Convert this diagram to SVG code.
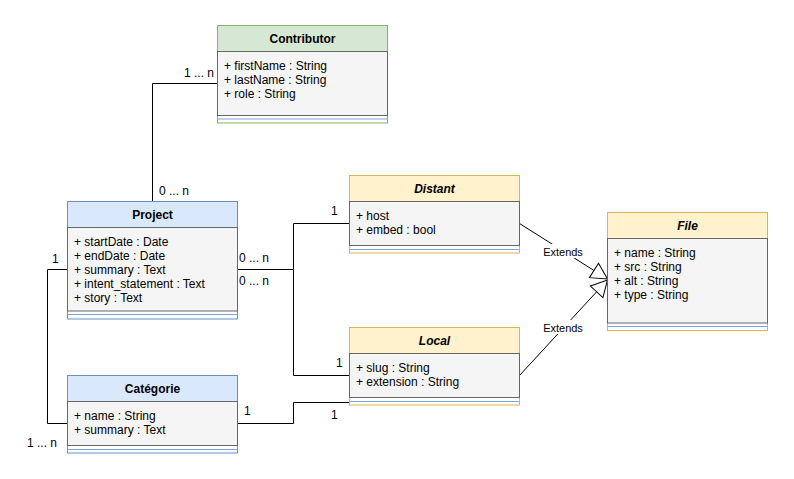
<svg xmlns="http://www.w3.org/2000/svg" width="794" height="479" viewBox="0 0 794 479">
<defs>
<style>
text{font-family:"Liberation Sans",Arial,sans-serif;font-size:12px;fill:#000}
.title{font-weight:bold;text-anchor:middle}
.it{font-style:italic}
.attr{fill:#f5f5f5;stroke:#666666;stroke-width:1}
.sep{stroke:#7ea6e0;stroke-width:1}
.green{fill:#d5e8d4;stroke:#82b366}
.blue{fill:#dae8fc;stroke:#6c8ebf}
.yellow{fill:#fff2cc;stroke:#d6b656}
.outer{fill:#fff}
.conn{fill:none;stroke:#000;stroke-width:1}
.lbl{font-size:11px;text-anchor:middle}
</style>
<marker id="tri" markerUnits="userSpaceOnUse" viewBox="0 0 18 20" refX="17" refY="10" markerWidth="18" markerHeight="20" orient="auto">
<path d="M1,1.5 L17,10 L1,18.5 Z" fill="#fff" stroke="#000" stroke-width="1"/>
</marker>
</defs>
<rect width="794" height="479" fill="#fff"/>

<g id="connectors">
<polyline class="conn" points="217.5,83.5 152.5,83.5 152.5,201.5"/>
<polyline class="conn" points="237.5,269.5 293.5,269.5 293.5,223.5 349.5,223.5"/>
<polyline class="conn" points="237.5,269.5 293.5,269.5 293.5,375.5 349.5,375.5"/>
<polyline class="conn" points="67.5,269.5 47.5,269.5 47.5,423.5 67.5,423.5"/>
<polyline class="conn" points="237.5,423.5 293.5,423.5 293.5,402.5 354.5,402.5"/>
<line class="conn" x1="519.5" y1="223.5" x2="607.5" y2="279" marker-end="url(#tri)"/>
<line class="conn" x1="519.5" y1="375.5" x2="607.5" y2="280" marker-end="url(#tri)"/>
<rect x="542" y="244" width="42" height="14" fill="#fff"/>
<text class="lbl" x="563" y="256">Extends</text>
<rect x="542" y="320" width="42" height="14" fill="#fff"/>
<text class="lbl" x="563" y="332">Extends</text>
<text x="214" y="77" text-anchor="end">1 ... n</text>
<text x="159" y="195">0 ... n</text>
<text x="239" y="262">0 ... n</text>
<text x="239" y="285">0 ... n</text>
<text x="331" y="215">1</text>
<text x="336" y="367">1</text>
<text x="52" y="263">1</text>
<text x="27" y="447">1 ... n</text>
<text x="244" y="415">1</text>
<text x="331" y="419">1</text>
</g>

<g id="contributor">
<rect x="217.5" y="25.5" width="170" height="97.5" class="green outer"/>
<rect x="217.5" y="25.5" width="170" height="26" class="green"/>
<rect x="217.5" y="51.5" width="170" height="64" class="attr"/>
<line class="sep" x1="217.5" y1="119" x2="387.5" y2="119"/>
<text class="title" x="302.5" y="43">Contributor</text>
<text x="224" y="70">+ firstName : String</text>
<text x="224" y="84">+ lastName : String</text>
<text x="224" y="98">+ role : String</text>
</g>

<g id="project">
<rect x="67.5" y="201.5" width="170" height="117.5" class="blue outer"/>
<rect x="67.5" y="201.5" width="170" height="26" class="blue"/>
<rect x="67.5" y="227.5" width="170" height="83.5" class="attr"/>
<line class="sep" x1="67.5" y1="314.5" x2="237.5" y2="314.5"/>
<text class="title" x="152.5" y="219">Project</text>
<text x="74" y="246">+ startDate : Date</text>
<text x="74" y="260">+ endDate : Date</text>
<text x="74" y="274">+ summary : Text</text>
<text x="74" y="288">+ intent_statement : Text</text>
<text x="74" y="302">+ story : Text</text>
</g>

<g id="distant">
<rect x="349.5" y="175.5" width="170" height="77.5" class="yellow outer"/>
<rect x="349.5" y="175.5" width="170" height="26" class="yellow"/>
<rect x="349.5" y="201.5" width="170" height="44" class="attr"/>
<line class="sep" x1="349.5" y1="249.5" x2="519.5" y2="249.5"/>
<text class="title it" x="434.5" y="193">Distant</text>
<text x="356" y="220">+ host</text>
<text x="356" y="234">+ embed : bool</text>
</g>

<g id="local">
<rect x="349.5" y="327.5" width="170" height="77.5" class="yellow outer"/>
<rect x="349.5" y="327.5" width="170" height="26" class="yellow"/>
<rect x="349.5" y="353.5" width="170" height="44" class="attr"/>
<line class="sep" x1="349.5" y1="401.5" x2="519.5" y2="401.5"/>
<text class="title it" x="434.5" y="345">Local</text>
<text x="356" y="372">+ slug : String</text>
<text x="356" y="386">+ extension : String</text>
</g>

<g id="file">
<rect x="607.5" y="212.5" width="160" height="118" class="yellow outer"/>
<rect x="607.5" y="212.5" width="160" height="26" class="yellow"/>
<rect x="607.5" y="238.5" width="160" height="84.5" class="attr"/>
<line class="sep" x1="607.5" y1="326.5" x2="767.5" y2="326.5"/>
<text class="title it" x="687.5" y="230">File</text>
<text x="614" y="257">+ name : String</text>
<text x="614" y="271">+ src : String</text>
<text x="614" y="285">+ alt : String</text>
<text x="614" y="299">+ type : String</text>
</g>

<g id="categorie">
<rect x="67.5" y="375.5" width="170" height="77.5" class="blue outer"/>
<rect x="67.5" y="375.5" width="170" height="26" class="blue"/>
<rect x="67.5" y="401.5" width="170" height="44" class="attr"/>
<line class="sep" x1="67.5" y1="449.5" x2="237.5" y2="449.5"/>
<text class="title" x="152.5" y="393">Catégorie</text>
<text x="74" y="420">+ name : String</text>
<text x="74" y="434">+ summary : Text</text>
</g>
</svg>
